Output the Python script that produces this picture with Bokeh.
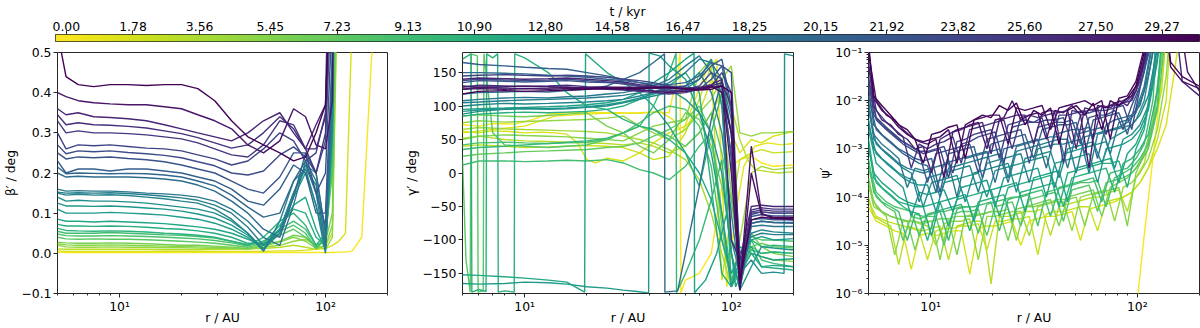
import numpy as np
from bokeh.plotting import figure
from bokeh.layouts import column, row
from bokeh.models import Range1d, FixedTicker, CustomJSTickFormatter, LinearColorMapper
from bokeh.palettes import Viridis256
from bokeh.embed import file_html
from bokeh.resources import INLINE

# ---------------- data ----------------
times = [0.0, 1.5, 3.0, 4.5, 6.0, 7.5, 9.0, 10.5, 12.0, 13.5, 15.0, 16.5, 18.0, 19.5, 21.0,
         22.5, 24.0, 25.5, 27.0, 28.5, 30.0]
cbar_ticks = [0.00, 1.78, 3.56, 5.45, 7.23, 9.13, 10.90, 12.80, 14.58, 16.47, 18.25, 20.15,
              21.92, 23.82, 25.60, 27.50, 29.27]
T_LO, T_HI = -0.29, 30.27

# panel 1: beta' / deg
r_beta = [5, 5.5, 6.3, 7.5, 9, 11, 13.5, 16.5, 20, 24, 29, 35, 42, 50, 60, 70, 80, 90, 100, 108, 116, 125, 135, 150, 170, 200]
beta = [
    [.003, .002, .002, .002, .002, .002, .002, .002, .002, .002, .002, .002, .002, .002, .002, .002, .002, .002, .002, .002, .003, .003, .006, .04, .55, 2],
    [.006, .005, .005, .005, .005, .005, .005, .005, .005, .005, .005, .005, .005, .005, .006, .006, .008, .010, .012, .020, .030, .050, .6, 2, 2, 2],
    [.011, .010, .010, .010, .010, .010, .010, .009, .009, .009, .010, .010, .012, .012, .015, .020, .015, .010, .020, .050, .8, 2, 2, 2, 2, 2],
    [.020, .016, .015, .015, .016, .015, .015, .014, .014, .013, .012, .012, .010, .015, .020, .030, .035, .020, .010, .040, .9, 2, 2, 2, 2, 2],
    [.028, .026, .025, .025, .026, .025, .024, .022, .020, .020, .018, .015, .012, .020, .030, .045, .040, .020, .030, .100, 1.0, 2, 2, 2, 2, 2],
    [.040, .036, .035, .036, .035, .035, .034, .032, .030, .028, .025, .020, .015, .025, .045, .060, .040, .015, .040, .200, 1.2, 2, 2, 2, 2, 2],
    [.055, .050, .050, .050, .052, .050, .048, .046, .045, .042, .038, .030, .022, .030, .060, .080, .060, .020, .030, .250, 1.5, 2, 2, 2, 2, 2],
    [.062, .057, .056, .055, .056, .055, .053, .050, .048, .045, .040, .030, .020, .040, .080, .100, .070, .020, .050, .300, 1.5, 2, 2, 2, 2, 2],
    [.085, .080, .080, .078, .080, .078, .076, .074, .070, .066, .060, .050, .035, .020, .060, .120, .140, .060, .010, .300, 2, 2, 2, 2, 2, 2],
    [.110, .100, .100, .100, .102, .100, .098, .095, .090, .085, .075, .060, .040, .010, .050, .140, .200, .120, .020, .350, 2, 2, 2, 2, 2, 2],
    [.140, .130, .132, .130, .130, .128, .125, .120, .115, .110, .100, .080, .050, .010, .060, .150, .220, .200, .050, .300, 2, 2, 2, 2, 2, 2],
    [.150, .145, .147, .145, .146, .144, .140, .136, .130, .125, .110, .085, .050, .005, .080, .180, .210, .120, .000, .350, 2, 2, 2, 2, 2, 2],
    [.160, .155, .156, .155, .155, .153, .150, .148, .145, .140, .130, .110, .080, .040, .020, .120, .230, .180, .020, .400, 2, 2, 2, 2, 2, 2],
    [.200, .190, .192, .190, .190, .190, .188, .185, .180, .170, .155, .130, .100, .060, .040, .140, .250, .200, .050, .450, 2, 2, 2, 2, 2, 2],
    [.230, .200, .210, .210, .205, .210, .210, .205, .200, .190, .180, .160, .130, .120, .160, .220, .200, .100, .100, .500, 2, 2, 2, 2, 2, 2],
    [.250, .235, .240, .238, .240, .236, .233, .228, .220, .210, .200, .180, .160, .150, .190, .250, .250, .150, .200, .600, 2, 2, 2, 2, 2, 2],
    [.300, .260, .270, .268, .270, .266, .262, .260, .255, .245, .235, .220, .230, .260, .300, .280, .230, .250, .350, .800, 2, 2, 2, 2, 2, 2],
    [.330, .300, .305, .300, .300, .298, .295, .290, .285, .275, .260, .245, .240, .270, .330, .320, .260, .200, .300, .900, 2, 2, 2, 2, 2, 2],
    [.360, .345, .350, .340, .338, .335, .330, .320, .310, .300, .290, .280, .300, .330, .350, .300, .260, .320, .370, 1.2, 2, 2, 2, 2, 2, 2],
    [.400, .390, .380, .375, .372, .370, .370, .365, .360, .345, .330, .310, .270, .250, .280, .360, .340, .270, .260, .380, 2, 2, 2, 2, 2, 2],
    [.550, .440, .420, .415, .420, .420, .418, .420, .420, .410, .380, .330, .290, .270, .250, .230, .240, .300, .370, .800, 2, 2, 2, 2, 2, 2],
]
beta_extra_times = [5.25, 8.25, 11.25, 14.25, 17.25, 20.25, 23.25, 26.25]
beta_extra = [
    [.024, .021, .020, .020, .021, .020, .019, .018, .017, .016, .015, .013, .011, .018, .028, .040, .030, .012, .020, .070, 1.0, 2, 2, 2, 2, 2],
    [.048, .044, .043, .043, .044, .043, .042, .040, .038, .036, .032, .026, .018, .030, .055, .070, .050, .012, .035, .220, 1.3, 2, 2, 2, 2, 2],
    [.072, .068, .068, .067, .068, .067, .065, .062, .060, .056, .050, .040, .025, .025, .070, .110, .100, .040, .020, .300, 1.8, 2, 2, 2, 2, 2],
    [.125, .118, .118, .117, .118, .116, .113, .110, .105, .098, .088, .070, .045, .012, .060, .150, .210, .170, .030, .330, 2, 2, 2, 2, 2, 2],
    [.152, .150, .151, .150, .151, .149, .146, .142, .138, .132, .120, .100, .065, .020, .050, .150, .220, .150, .010, .380, 2, 2, 2, 2, 2, 2],
    [.215, .198, .200, .199, .198, .199, .198, .195, .190, .180, .168, .145, .115, .090, .100, .180, .230, .150, .070, .480, 2, 2, 2, 2, 2, 2],
    [.270, .248, .255, .253, .255, .251, .248, .244, .238, .228, .218, .200, .195, .205, .245, .265, .240, .200, .280, .700, 2, 2, 2, 2, 2, 2],
    [.345, .320, .325, .320, .319, .316, .312, .305, .298, .288, .275, .262, .270, .300, .340, .310, .260, .260, .340, 1.0, 2, 2, 2, 2, 2, 2],
]

# panel 2: gamma' / deg  (radius list, value list per snapshot)
r_g = [5, 6, 8, 10, 13, 16, 20, 25, 30, 36, 42, 50, 60, 70, 80, 90, 100, 110, 125, 140, 160, 200]
gamma_r = [
    [5, 6, 7, 9, 11, 13, 16, 20, 25, 30, 36, 42, 50, 55, 56.5, 57, 60, 70, 80, 90, 100, 110, 125, 140, 160, 200],
    [5, 6, 7, 8.5, 10, 12, 14, 16, 18, 20, 22, 25, 30, 36, 42, 50, 60, 70, 80, 90, 100, 110, 125, 140, 160, 200],
    [5, 6, 8, 10, 13, 16, 20, 25, 30, 36, 42, 50, 60, 70, 80, 90, 100, 110, 120, 130, 150, 170, 200],
    r_g,
    r_g,
    [5, 5.2, 5.45, 5.5, 5.9, 5.95, 6.3, 6.35, 7, 8, 10, 13, 16, 20, 25, 30, 36, 42, 50, 60, 70, 80, 90, 100, 110, 125, 140, 160, 200],
    r_g,
    [5, 5.5, 5.55, 6, 6.5, 6.55, 7, 7.4, 7.45, 8, 8.9, 8.95, 10, 13, 16, 20, 25, 30, 36, 42, 50, 60, 70, 80, 90, 100, 110, 125, 140, 160, 200],
    [5, 6, 8, 10, 13, 16, 19.5, 19.7, 22, 25, 30, 36, 42, 50, 60, 70, 80, 90, 100, 110, 125, 140, 160, 200],
    [5, 6, 8, 10, 13, 16, 20, 25, 30, 35, 39.8, 40, 45, 50, 60, 70, 80, 90, 100, 110, 125, 140, 160, 200],
    [5, 6, 8, 10, 13, 16, 20, 25, 30, 36, 42, 50, 60, 70, 80, 90, 100, 110, 125, 140, 160, 180, 181, 200],
    r_g,
    r_g,
    [5, 6, 8, 10, 13, 16, 20, 25, 30, 36, 42, 47.5, 47.7, 55, 60, 70, 80, 90, 100, 110, 125, 140, 160, 200],
    r_g, r_g, r_g, r_g, r_g, r_g, r_g,
]
gamma = [
    [72, 70, 74, 73, 80, 88, 90, 91, 90, 89, 90, 91, 90, 150, 179, -179, -160, -150, -120, -20, 10, 20, 25, 15, 10, 12],
    [62, 60, 63, 62, 60, 61, 60, 58, 45, 20, 15, 22, 18, 30, 45, 60, 70, 90, 140, 120, 60, 30, 50, 45, 55, 62],
    [52, 55, 50, 48, 47, 46, 45, 44, 42, 45, 40, 30, 40, 60, 90, 120, 100, 50, 20, 5, 2, 0, 2],
    [75, 78, 76, 77, 78, 79, 80, 82, 85, 70, 60, 50, 65, 90, 110, 140, 160, 60, 55, 60, 60, 62],
    [85, 87, 85, 84, 86, 88, 90, 70, 60, 40, 30, 50, 90, 80, 40, -20, -100, -120, -90, -110, -120, -125],
    [20, -130, -178, 178, 175, -178, -176, 178, 60, 42, 40, 38, 40, 42, 50, 60, 70, 65, 55, 40, 60, 90, 30, -40, -130, -110, -120, -118, -120],
    [12, 18, 18, 17, 18, 19, 18, 20, 15, 5, 0, -10, 10, 40, 60, -60, -150, -140, -100, -130, -135, -140],
    [170, 178, -178, -174, -177, 178, 172, 178, -178, -176, -178, 178, 172, 150, 120, 100, 95, 80, 70, 65, 50, 30, -20, 60, 120, -170, -140, -115, -120, -118, -120],
    [-152, -153, -155, -157, -160, -163, -178, 178, 165, 150, 135, 120, 100, 70, 30, 0, -40, -100, -150, -120, -110, -140, -138, -140],
    [-165, -166, -165, -163, -164, -166, -170, -172, -175, -177, -179, 179, 175, 160, 140, 90, 30, -60, -170, -130, -100, -95, -100, -98],
    [88, 92, 95, 96, 95, 96, 98, 100, 105, 110, 115, 120, 125, 140, 170, 100, -100, -150, -130, -150, -148, -150, 178, 175],
    [100, 102, 104, 103, 104, 105, 106, 108, 110, 115, 120, 125, 130, 150, 120, 60, -60, -160, -90, -85, -88, -90],
    [108, 110, 112, 113, 112, 114, 115, 118, 120, 125, 130, 140, 160, 175, 150, 120, 30, -170, -80, -78, -80, -80],
    [118, 120, 121, 122, 121, 123, 125, 130, 140, 150, 165, 178, -178, -176, -120, -20, 80, 140, 60, -150, -75, -72, -74, -74],
    [165, 162, 160, 158, 156, 155, 150, 145, 140, 135, 130, 128, 130, 140, 160, 170, 100, -160, -70, -68, -70, -70],
    [135, 138, 137, 136, 137, 138, 136, 135, 134, 130, 128, 127, 125, 130, 150, 140, 20, -165, -65, -62, -64, -64],
    [145, 146, 147, 146, 145, 146, 145, 143, 140, 138, 135, 130, 128, 126, 130, 150, 120, -170, -60, -58, -60, -60],
    [125, 128, 127, 126, 127, 128, 126, 125, 124, 122, 120, 118, 120, 125, 128, 130, 60, -150, -55, -52, -54, -54],
    [140, 142, 141, 140, 141, 142, 140, 138, 136, 132, 130, 128, 126, 128, 132, 140, -100, -130, -50, -48, -50, -50],
    [130, 128, 129, 130, 129, 128, 127, 126, 125, 124, 122, 120, 122, 125, 128, 130, 0, -170, 40, -60, -68, -70],
    [118, 122, 123, 122, 123, 124, 125, 126, 126, 126, 127, 128, 126, 124, 125, 130, 120, -160, -70, -66, -68, -68],
]
gamma_extra_times = [0.75, 2.25, 3.75, 5.25, 6.75, 8.25, 9.75, 11.25, 12.75, 14.25, 17.25, 20.25, 23.25, 26.25, 29.25]
gamma_extra_r = [
    [5, 7, 10, 14, 20, 28, 36, 45, 52, 58, 65, 75, 85, 95, 105, 115, 130, 150, 175, 200],
    r_g, r_g, r_g, r_g, r_g,
    [5, 6, 8, 10, 13, 16, 20, 25, 30, 36, 42, 50, 54, 54.3, 60, 70, 80, 90, 100, 110, 125, 140, 160, 200],
    r_g,
    [5, 6, 8, 10, 13, 16, 20, 25, 30, 36, 42, 50, 60, 66, 66.4, 75, 85, 95, 105, 115, 125, 140, 160, 200],
    r_g, r_g, r_g, r_g, r_g, r_g,
]
gamma_extra = [
    [60, 65, 70, 85, 88, 90, 89, 92, 80, 60, 100, 150, 170, -170, -60, 10, 40, 45, 42, 44],
    [40, 42, 40, 38, 39, 40, 41, 40, 38, 30, 20, 25, 60, 110, 160, -160, -60, 20, 30, 35, 30, 32],
    [65, 68, 66, 65, 64, 63, 62, 60, 55, 50, 45, 35, 20, -10, -60, -120, -170, -100, 0, 10, 5, 8],
    [50, 55, 57, 56, 55, 54, 52, 50, 48, 60, 70, 75, 80, 150, 170, 100, -30, -140, -120, -125, -130, -132],
    [25, 28, 30, 32, 33, 34, 35, 38, 40, 45, 55, 65, 80, 100, 60, -80, -170, -150, -110, -105, -110, -112],
    [42, 45, 46, 45, 44, 45, 46, 50, 60, 75, 90, 100, 95, 70, 10, -100, -160, -120, -95, -100, -100, -102],
    [35, 38, 40, 42, 44, 46, 48, 52, 60, 70, 100, 150, 179, -179, -150, -100, -40, 20, -120, -170, -100, -110, -108, -110],
    [85, 88, 90, 91, 90, 91, 92, 95, 100, 110, 120, 130, 150, 120, -20, -150, -170, -110, -120, -140, -142, -145],
    [95, 96, 97, 98, 99, 100, 102, 105, 110, 120, 135, 150, 170, 179, -179, -160, -120, -60, -170, -140, -120, -125, -130, -128],
    [92, 94, 96, 97, 96, 97, 99, 102, 106, 112, 118, 125, 110, 90, 60, 0, -120, -175, -140, -110, -112, -115],
    [105, 106, 108, 109, 110, 111, 112, 114, 116, 120, 126, 135, 150, 170, 165, 140, 80, -120, -95, -90, -92, -92],
    [150, 150, 149, 148, 146, 145, 143, 140, 138, 135, 133, 132, 135, 145, 165, 160, 90, -175, -75, -72, -74, -75],
    [138, 140, 139, 138, 139, 140, 138, 136, 133, 130, 127, 124, 122, 125, 140, 160, 150, -140, -62, -58, -60, -60],
    [128, 131, 130, 129, 130, 131, 129, 128, 126, 124, 123, 122, 123, 126, 130, 135, 100, -165, -58, -55, -57, -57],
    [125, 126, 125, 126, 125, 126, 127, 128, 128, 128, 128, 127, 125, 126, 130, 120, 60, -175, 0, -62, -66, -66],
]

# panel 3: psi' (read as log10 values on the log axis)
r_psi_a = [5, 5.3, 5.8, 6.4, 7.0, 7.7, 8.4, 9.2, 10.1, 11.1, 12.2, 13.4, 14.7, 16.2, 17.8, 19.6, 21.5, 23.7, 26, 28.6,
           31.5, 34.6, 38, 41.8, 46, 50.6, 55.7, 61.2, 67.3, 74, 81.4, 89.5, 98.5, 108, 119, 131, 145, 165, 200]
r_psi_b = [5, 5.45, 6.1, 6.7, 7.35, 8.05, 8.8, 9.65, 10.6, 11.6, 12.8, 14.05, 15.45, 17, 18.7, 20.5, 22.6, 24.8, 27.3, 30,
           33, 36.3, 39.9, 43.9, 48.3, 53.1, 58.4, 64.2, 70.6, 77.7, 85.4, 94, 103, 113, 125, 138, 150, 175, 200]
r_psi_0 = [5, 60, 89.5, 98.5, 108, 119, 131, 145, 165]
psi_log10 = [
    [-9, -9, -8, -6.4, -4.8, -3.2, -1.6, 0.1, 2],
    [-4.2, -4.5, -4.6, -4.7, -4.75, -5.5, -4.8, -4.75, -4.8, -4.75, -4.7, -4.7, -5.6, -4.65, -4.6, -4.6, -4.55, -4.5, -5.0, -4.5, -4.45, -4.4, -4.4, -4.35, -4.3, -4.9, -4.25, -4.2, -4.15, -4.1, -4.0, -3.9, -3.7, -3.4, -3.0, -2.5, -1.5, 0.5, 0.5],
    [-4.0, -4.4, -4.5, -4.6, -5.4, -4.6, -4.65, -4.7, -4.65, -4.6, -5.3, -4.6, -4.55, -4.5, -4.5, -5.8, -4.4, -4.4, -4.35, -4.3, -4.3, -4.25, -4.8, -4.2, -4.15, -4.1, -4.05, -4.0, -4.0, -3.9, -3.85, -4.3, -3.6, -3.3, -2.5, -1.8, 0.5, 0.5, 0.5],
    [-3.8, -4.2, -4.4, -5.2, -4.5, -4.5, -4.55, -4.6, -5.0, -4.55, -4.5, -4.5, -4.45, -5.3, -4.4, -4.4, -4.35, -4.3, -4.3, -4.8, -4.2, -4.15, -4.1, -4.1, -4.7, -4.0, -3.95, -3.9, -3.85, -4.5, -3.8, -3.7, -3.5, -3.2, -2.6, -1.5, 0.5, 0.5, 0.5],
    [-3.6, -4.1, -4.3, -4.4, -4.45, -4.5, -5.1, -4.5, -4.5, -4.45, -4.45, -5.2, -4.4, -4.4, -4.35, -4.3, -4.3, -4.9, -4.25, -4.2, -4.15, -4.1, -4.05, -4.6, -4.0, -3.95, -3.9, -3.85, -4.4, -3.8, -3.7, -3.6, -3.4, -3.1, -2.4, -1.0, 0.5, 0.5, 0.5],
    [-3.4, -4.0, -4.2, -4.3, -4.9, -4.4, -4.45, -4.4, -4.4, -5.0, -4.35, -4.3, -4.3, -4.25, -4.8, -4.2, -4.15, -4.1, -4.6, -4.05, -4.0, -3.95, -3.9, -4.5, -3.85, -3.8, -3.75, -4.3, -3.7, -3.65, -3.6, -3.5, -3.3, -3.0, -2.2, -0.5, 0.5, 0.5, 0.5],
    [-3.2, -3.9, -4.1, -4.2, -4.3, -4.9, -4.35, -4.4, -4.35, -4.3, -4.9, -4.25, -4.2, -4.2, -4.15, -4.1, -4.7, -4.05, -4.0, -3.95, -3.9, -3.85, -4.4, -3.8, -3.75, -3.7, -3.65, -3.6, -4.1, -3.5, -3.45, -3.4, -3.2, -2.9, -2.0, 0.5, 0.5, 0.5, 0.5],
    [-3.0, -3.7, -3.9, -4.05, -4.2, -4.3, -4.35, -4.9, -4.3, -4.25, -4.2, -4.15, -4.7, -4.1, -4.05, -4.0, -3.95, -4.5, -3.9, -3.85, -3.8, -3.75, -3.7, -4.2, -3.6, -3.55, -3.5, -3.45, -3.4, -3.9, -3.3, -3.2, -3.0, -2.7, -1.8, 0.5, 0.5, 0.5, 0.5],
    [-2.8, -3.5, -3.7, -3.85, -4.0, -4.1, -4.15, -4.2, -4.8, -4.1, -4.05, -4.0, -3.95, -4.5, -3.9, -3.85, -3.8, -3.75, -3.7, -4.3, -3.6, -3.55, -3.5, -3.45, -4.1, -3.4, -3.35, -3.3, -3.25, -3.2, -3.7, -3.1, -2.9, -2.5, -1.5, 0.5, 0.5, 0.5, 0.5],
    [-2.6, -3.3, -3.5, -3.65, -3.8, -4.4, -3.9, -3.95, -3.9, -3.85, -4.3, -3.8, -3.75, -3.7, -3.65, -4.2, -3.6, -3.55, -3.5, -3.45, -3.4, -4.0, -3.3, -3.25, -3.2, -3.15, -3.1, -3.7, -3.0, -2.95, -2.9, -2.8, -2.6, -2.2, -1.2, 0.5, 0.5, 0.5, 0.5],
    [-2.4, -3.0, -3.2, -3.35, -3.5, -3.6, -3.65, -4.2, -3.7, -3.65, -3.6, -3.55, -4.1, -3.5, -3.45, -3.4, -3.35, -3.3, -3.9, -3.2, -3.15, -3.1, -3.05, -3.6, -3.0, -2.95, -2.9, -2.85, -3.3, -2.8, -2.7, -2.6, -2.4, -2.0, -1.0, 0.5, 0.5, 0.5, 0.5],
    [-2.2, -2.9, -3.1, -3.25, -3.4, -3.5, -4.1, -3.6, -3.55, -3.5, -3.45, -3.4, -3.35, -3.9, -3.3, -3.25, -3.2, -3.15, -3.1, -3.7, -3.0, -2.95, -2.9, -2.9, -2.85, -2.8, -3.5, -2.7, -2.65, -2.6, -2.55, -2.5, -2.3, -1.9, -0.9, 0.5, 0.5, 0.5, 0.5],
    [-2.0, -2.7, -2.9, -3.05, -3.2, -3.8, -3.4, -3.45, -3.4, -3.35, -3.3, -4.0, -3.2, -3.15, -3.1, -3.05, -3.0, -3.6, -2.95, -2.9, -2.85, -2.8, -2.75, -2.75, -3.4, -2.7, -2.65, -2.6, -2.55, -3.1, -2.45, -2.4, -2.2, -1.7, -0.7, 0.5, 0.5, 0.5, 0.5],
    [-1.9, -2.6, -2.8, -2.95, -3.1, -3.2, -3.3, -3.35, -3.9, -3.3, -3.25, -3.2, -3.15, -3.1, -3.05, -3.7, -3.0, -2.95, -2.9, -2.85, -2.8, -3.4, -2.7, -2.65, -2.6, -2.6, -2.55, -3.2, -2.5, -2.4, -2.35, -2.3, -2.1, -1.5, -0.5, 0.5, 0.5, 0.5, 0.5],
    [-1.7, -2.5, -2.7, -2.85, -3.0, -3.1, -3.2, -3.25, -3.2, -3.9, -3.1, -3.05, -3.0, -2.95, -3.6, -2.9, -2.85, -2.8, -2.75, -2.7, -3.2, -2.6, -2.55, -2.5, -2.5, -2.45, -3.1, -2.4, -2.35, -2.3, -2.25, -2.7, -2.0, -1.4, -0.3, 0.5, 0.5, 0.5, 0.5],
    [-1.6, -2.4, -2.6, -2.75, -2.9, -3.0, -3.1, -3.7, -3.1, -3.05, -3.0, -2.95, -2.9, -3.5, -2.8, -2.75, -2.7, -2.65, -2.6, -3.3, -2.55, -2.5, -2.45, -2.45, -2.4, -2.9, -2.35, -2.3, -2.3, -2.2, -2.6, -2.1, -1.7, -1.0, 0.1, 0.5, 0.5, 0.5, 0.5],
    [-1.5, -2.3, -2.5, -2.65, -2.8, -2.9, -3.0, -3.1, -3.05, -3.0, -3.6, -2.85, -2.8, -2.7, -2.65, -2.6, -3.2, -2.5, -2.45, -2.4, -2.45, -2.35, -3.0, -2.3, -2.3, -2.25, -2.2, -2.8, -2.15, -2.1, -2.1, -2.0, -1.8, -1.1, 0.1, 0.5, 0.5, 0.5, 0.5],
    [-1.3, -2.2, -2.45, -2.6, -2.75, -3.4, -2.9, -3.0, -2.9, -2.85, -2.75, -3.3, -2.6, -2.55, -2.5, -2.45, -2.4, -3.0, -2.35, -2.3, -2.35, -2.3, -2.25, -3.3, -2.2, -2.25, -2.2, -2.15, -2.7, -2.1, -2.05, -2.0, -1.6, -0.9, 0.2, 0.5, 0.5, 0.5, 0.5],
    [-1.2, -2.1, -2.4, -2.5, -2.7, -2.8, -3.0, -2.95, -3.5, -2.8, -2.7, -2.6, -2.55, -2.5, -2.45, -3.1, -2.4, -2.35, -2.3, -2.3, -2.9, -2.25, -2.2, -2.25, -2.2, -3.0, -2.15, -2.2, -2.1, -2.15, -2.0, -2.1, -1.8, -1.2, 0.0, 0.5, 0.5, -1.6, -1.9],
    [-1.0, -2.0, -2.3, -2.4, -2.6, -2.75, -2.85, -2.9, -2.8, -3.6, -2.65, -2.6, -2.5, -2.45, -3.0, -2.4, -2.35, -2.0, -2.4, -2.3, -2.25, -2.8, -2.2, -2.25, -2.1, -2.3, -3.4, -2.1, -2.15, -2.05, -2.0, -1.9, -1.5, -0.8, 0.3, 0.5, 0.5, -1.4, -1.8],
    [-0.8, -1.9, -2.1, -2.3, -2.5, -2.6, -2.8, -3.3, -2.7, -2.65, -2.55, -2.5, -3.2, -2.4, -2.3, -2.35, -2.1, -2.2, -2.05, -2.5, -2.2, -2.3, -2.15, -2.9, -2.2, -2.1, -2.3, -2.05, -2.6, -2.0, -2.1, -1.95, -1.7, -1.0, 0.2, 0.5, -1.2, -1.5, -1.7],
]
psi_r = [r_psi_0] + [r_psi_b if k % 2 else r_psi_a for k in range(1, 21)]
psi_extra_times = [2.25, 5.25, 8.25, 11.25, 14.25, 17.25, 23.25, 29.25]
psi_extra_r = [r_psi_b, r_psi_a, r_psi_b, r_psi_a, r_psi_b, r_psi_a, r_psi_b, r_psi_a]
psi_extra_log10 = [
    [-4.1, -4.4, -4.5, -4.55, -4.6, -4.65, -4.7, -5.3, -4.7, -4.65, -4.65, -4.6, -4.6, -4.55, -5.1, -4.5, -4.5, -4.45, -4.45, -4.4, -5.2, -4.35, -4.3, -4.3, -4.25, -4.2, -4.2, -4.7, -4.1, -4.05, -4.0, -3.9, -3.7, -3.4, -2.8, -2.0, 0.5, 0.5, 0.5],
    [-3.7, -4.2, -4.3, -4.4, -4.45, -4.5, -4.5, -4.55, -4.5, -5.3, -4.45, -4.4, -4.4, -4.35, -4.35, -4.3, -4.3, -4.25, -4.9, -4.2, -4.2, -4.15, -4.1, -4.05, -4.05, -4.0, -4.6, -3.95, -3.9, -3.85, -3.8, -4.6, -3.5, -3.1, -2.5, -1.2, 0.5, 0.5, 0.5],
    [-3.3, -3.9, -4.1, -4.2, -4.25, -4.3, -4.8, -4.35, -4.3, -4.3, -4.25, -4.2, -4.2, -4.75, -4.15, -4.1, -4.05, -4.0, -4.0, -3.95, -4.6, -3.9, -3.85, -3.8, -3.75, -3.7, -3.7, -3.65, -4.2, -3.6, -3.5, -3.4, -3.2, -2.9, -2.1, 0.5, 0.5, 0.5, 0.5],
    [-2.9, -3.6, -3.8, -3.95, -4.1, -4.15, -4.2, -4.2, -4.15, -4.1, -4.6, -4.05, -4.0, -3.95, -3.9, -3.85, -4.4, -3.8, -3.75, -3.7, -3.65, -3.6, -3.55, -4.2, -3.5, -3.45, -3.4, -3.35, -3.3, -3.3, -3.25, -3.8, -3.0, -2.6, -1.6, 0.5, 0.5, 0.5, 0.5],
    [-2.5, -3.1, -3.3, -3.45, -3.6, -3.7, -3.75, -3.75, -4.3, -3.7, -3.65, -3.6, -3.55, -3.5, -4.0, -3.45, -3.4, -3.35, -3.3, -3.25, -3.2, -3.15, -3.8, -3.1, -3.05, -3.0, -2.95, -2.9, -2.85, -3.4, -2.8, -2.7, -2.5, -2.1, -1.1, 0.5, 0.5, 0.5, 0.5],
    [-2.1, -2.8, -3.0, -3.15, -3.3, -3.4, -3.45, -3.5, -3.45, -4.0, -3.4, -3.35, -3.3, -3.25, -3.2, -3.15, -3.1, -3.7, -3.05, -3.0, -2.95, -2.9, -2.85, -2.8, -2.8, -3.5, -2.75, -2.7, -2.65, -2.6, -2.55, -2.45, -2.25, -1.8, -0.8, 0.5, 0.5, 0.5, 0.5],
    [-1.55, -2.35, -2.55, -2.7, -2.85, -2.95, -3.05, -3.05, -3.0, -2.95, -3.5, -2.9, -2.85, -2.75, -2.7, -2.65, -3.3, -2.55, -2.5, -2.45, -2.45, -2.4, -2.4, -2.35, -2.9, -2.3, -2.25, -2.2, -2.2, -2.15, -2.1, -2.6, -1.75, -1.05, 0.1, 0.5, 0.5, 0.5, 0.5],
    [-0.9, -1.95, -2.2, -2.35, -2.55, -2.7, -2.8, -2.85, -2.8, -2.75, -2.6, -3.3, -2.5, -2.4, -2.35, -2.3, -2.3, -2.9, -2.15, -2.2, -2.15, -2.1, -2.6, -2.15, -2.1, -2.05, -2.0, -2.1, -2.0, -2.8, -1.95, -1.9, -1.6, -0.9, 0.3, 0.5, -1.3, -1.6, -1.75],
]

# ---------------- style ----------------
FONT = "DejaVu Sans"
FS = "12.4px"
INK = "#262626"
pal = list(reversed(Viridis256))


def tcolor(t):
    i = int(round((t - T_LO) / (T_HI - T_LO) * 255))
    return pal[max(0, min(255, i))]


LOGFMT = """
const sup = {"-":"\u207b","0":"\u2070","1":"\u00b9","2":"\u00b2","3":"\u00b3","4":"\u2074",
             "5":"\u2075","6":"\u2076","7":"\u2077","8":"\u2078","9":"\u2079"};
const e = Math.round(Math.log10(tick));
return "10" + String(e).split("").map(c => sup[c]).join("");
"""


def linfmt(d):
    return CustomJSTickFormatter(code=f"""
const s = Math.abs(tick).toFixed({d});
return (tick < -1e-9 ? "\u2212" : "") + s;
""")


def style_axis(ax, minor):
    ax.axis_line_color = None
    ax.major_tick_line_color = INK
    ax.major_tick_line_width = 1
    ax.major_tick_out = 4
    ax.major_tick_in = 0
    ax.minor_tick_line_color = INK if minor else None
    ax.minor_tick_out = 2
    ax.minor_tick_in = 0
    ax.major_label_text_font = FONT
    ax.major_label_text_font_size = FS
    ax.major_label_text_color = "black"
    ax.major_label_standoff = 2
    ax.axis_label_text_font = FONT
    ax.axis_label_text_font_size = FS
    ax.axis_label_text_font_style = "normal"
    ax.axis_label_text_color = "black"
    ax.axis_label_standoff = 0


def panel(w, left, right, ylabel, y_range, ylog):
    p = figure(width=w, height=284, x_axis_type="log",
               y_axis_type="log" if ylog else "linear",
               x_range=Range1d(5, 200), y_range=y_range,
               output_backend="svg", toolbar_location=None,
               min_border_left=left, min_border_right=right,
               min_border_top=8, min_border_bottom=35)
    p.outline_line_color = INK
    p.outline_line_width = 1
    p.grid.visible = False
    p.background_fill_color = "white"
    p.border_fill_color = "white"
    p.xaxis.ticker = FixedTicker(ticks=[10, 100],
                                 minor_ticks=[5, 6, 7, 8, 9, 20, 30, 40, 50, 60, 70, 80, 90, 200])
    p.xaxis.formatter = CustomJSTickFormatter(code=LOGFMT)
    p.xaxis.axis_label = "r / AU"
    style_axis(p.xaxis[0], True)
    p.xaxis.major_label_standoff = 1
    p.xaxis.axis_label_standoff = -7
    p.yaxis.axis_label = ylabel
    style_axis(p.yaxis[0], ylog)
    return p


def by_time(ts, rs, vs):
    return sorted(zip(ts, rs, vs), key=lambda q: q[0])


# ---------------- colour bar ----------------
cb = figure(width=1200, height=44, x_range=Range1d(T_LO, T_HI), y_range=Range1d(0, 1),
            x_axis_location="above", y_axis_location=None,
            output_backend="svg", toolbar_location=None,
            min_border_left=55, min_border_right=1, min_border_top=32, min_border_bottom=3)
cb.grid.visible = False
cb.outline_line_color = INK
cb.border_fill_color = "white"
grad = np.linspace(T_LO, T_HI, 800).reshape(1, -1)
cb.image(image=[grad], x=T_LO, y=0, dw=T_HI - T_LO, dh=1,
         color_mapper=LinearColorMapper(palette=pal, low=T_LO, high=T_HI))
cb.xaxis.ticker = FixedTicker(ticks=cbar_ticks, minor_ticks=[])
cb.xaxis.formatter = linfmt(2)
cb.xaxis.axis_label = "t / kyr"
style_axis(cb.xaxis[0], False)
cb.xaxis.major_label_standoff = 0
cb.xaxis.axis_label_standoff = 0

# ---------------- panels ----------------
p1 = panel(400, 55, 13, "\u03b2\u2032 / deg", Range1d(-0.1, 0.5), False)
p1.yaxis.ticker = FixedTicker(ticks=[-0.1, 0.0, 0.1, 0.2, 0.3, 0.4, 0.5], minor_ticks=[])
p1.yaxis.formatter = linfmt(1)
for t, rr, vals in by_time(times + beta_extra_times,
                           [r_beta] * (len(beta) + len(beta_extra)), beta + beta_extra):
    n = min(len(rr), len(vals))
    p1.line(rr[:n], vals[:n], line_color=tcolor(t), line_width=1.4)

p2 = panel(406, 62, 13, "\u03b3\u2032 / deg", Range1d(-180, 180), False)
p2.yaxis.ticker = FixedTicker(ticks=[-150, -100, -50, 0, 50, 100, 150], minor_ticks=[])
p2.yaxis.formatter = linfmt(0)
for t, rr, vals in by_time(times + gamma_extra_times, gamma_r + gamma_extra_r, gamma + gamma_extra):
    n = min(len(rr), len(vals))
    p2.line(rr[:n], vals[:n], line_color=tcolor(t), line_width=1.4)

p3 = panel(394, 62, 1, "\u03c8\u2032", Range1d(1e-6, 1e-1), True)
p3.yaxis.ticker = FixedTicker(ticks=[1e-6, 1e-5, 1e-4, 1e-3, 1e-2, 1e-1],
                              minor_ticks=[m * 10.0 ** e for e in range(-6, -1) for m in range(2, 10)])
p3.yaxis.formatter = CustomJSTickFormatter(code=LOGFMT)
for t, rr, vals in by_time(times + psi_extra_times, psi_r + psi_extra_r, psi_log10 + psi_extra_log10):
    n = min(len(rr), len(vals))
    p3.line(rr[:n], [10.0 ** v for v in vals[:n]], line_color=tcolor(t), line_width=1.4)

layout = column(cb, row(p1, p2, p3, spacing=0), spacing=0)

open("out.html", "w", encoding="utf-8").write(file_html(layout, INLINE, title="chart"))
